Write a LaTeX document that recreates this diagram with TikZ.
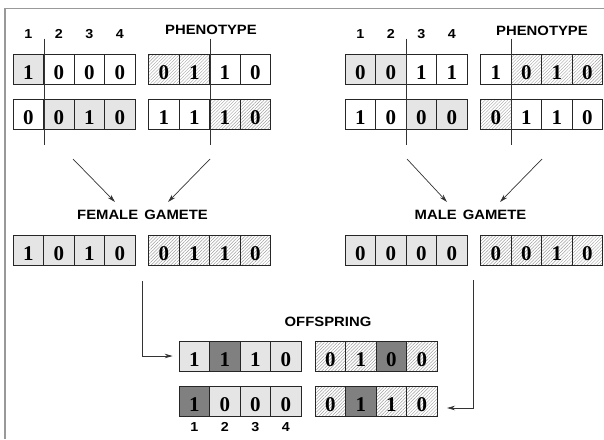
\documentclass[tikz,border=0pt]{standalone}
\usepackage{fontspec}
\setmainfont{Liberation Serif}
\newfontfamily\labfont[FakeStretch=1.1]{Liberation Sans}
\usetikzlibrary{patterns,patterns.meta,calc,arrows.meta}
\tikzset{
  cell/.style={draw=black!85, line width=0.7pt, minimum width=30.5pt, minimum height=30pt,
    inner sep=0pt, text height=20.5pt, text depth=0pt, font=\fontsize{21}{21}\selectfont\bfseries},
  kind/.style={#1},
  w/.style={fill=white},
  g/.style={fill=gray!20},
  d/.style={fill=gray},
  h/.style={pattern={Lines[angle=45,distance=2.3pt,line width=0.45pt]}, pattern color=gray!75},
  lab/.style={font=\labfont\bfseries\fontsize{13.5}{14}\selectfont, inner sep=0pt},
  num/.style={font=\labfont\bfseries\fontsize{13}{13}\selectfont, inner sep=0pt},
  xline/.style={draw=black!80, line width=0.6pt},
  link/.style={draw=black!80, line width=0.7pt, -{Stealth[length=8pt,width=4.5pt]}},
  frame/.style={draw=gray!80, line width=1.2pt},
}
\newcommand\reg[4]{%
  \foreach \dd/\ss [count=\ii] in {#4} {%
    \node[cell, kind/.expand once=\ss] (#1-\ii) at ({#2+(\ii-0.5)*30.5},#3) {\dd};
  }%
}
\begin{document}
\begin{tikzpicture}[x=1pt,y=-1pt]
\useasboundingbox (0,0) rectangle (604,439);
\draw[frame] (5,439) -- (5,8.5) -- (604,8.5);

% parents
\reg{tla}{13}{69}{1/g,0/w,0/w,0/w}
\reg{tlp}{148.5}{69}{0/h,1/h,1/w,0/w}
\reg{tlb}{13}{114}{0/w,0/g,1/g,0/g}
\reg{tlq}{148.5}{114}{1/w,1/w,1/h,0/h}
\reg{tra}{345}{69}{0/g,0/g,1/w,1/w}
\reg{trp}{480.5}{69}{1/w,0/h,1/h,0/h}
\reg{trb}{345}{114}{1/w,0/w,0/g,0/g}
\reg{trq}{480.5}{114}{0/h,1/w,1/w,0/w}
% gametes
\reg{fg}{13}{250}{1/g,0/g,1/g,0/g}
\reg{fp}{148.5}{250}{0/h,1/h,1/h,0/h}
\reg{mg}{345}{250}{0/g,0/g,0/g,0/g}
\reg{mp}{480.5}{250}{0/h,0/h,1/h,0/h}
% offspring
\reg{oa}{179}{356}{1/g,1/d,1/g,0/g}
\reg{op}{315}{356}{0/h,1/h,0/d,0/h}
\reg{ob}{179}{401}{1/d,0/g,0/g,0/g}
\reg{oq}{315}{401}{0/h,1/d,1/h,0/h}

% crossover lines
\draw[xline] ([yshift=15pt]tla-1.north east) -- ([yshift=-16pt]tlb-1.south east);
\draw[xline] ([yshift=15pt]tlp-2.north east) -- ([yshift=-16pt]tlq-2.south east);
\draw[xline] ([yshift=15pt]tra-2.north east) -- ([yshift=-16pt]trb-2.south east);
\draw[xline] ([yshift=15pt]trp-1.north east) -- ([yshift=-16pt]trq-1.south east);

% labels
\foreach \i in {1,...,4} {
  \node[num] (tln\i) at ($(tla-\i)+(0,-35)$) {\i};
  \node[num] (trn\i) at ($(tra-\i)+(0,-35)$) {\i};
  \node[num] (obn\i) at ($(ob-\i)+(0,26)$) {\i};
}
\node[lab] (ph1) at (211,30) {PHENOTYPE};
\node[lab] (ph2) at (542,30.5) {PHENOTYPE};
\node[lab] (fem) at (142.5,215) {FEMALE\hspace{0.45em}GAMETE};
\node[lab] (mal) at (470.5,215) {MALE\hspace{0.45em}GAMETE};
\node[lab] (off) at (328,321.5) {OFFSPRING};

% arrows to gametes
\coordinate (fa1) at (73,159);  \coordinate (fa2) at (115,202);
\coordinate (fb1) at (210,159); \coordinate (fb2) at (168,202);
\coordinate (ma1) at (407,159); \coordinate (ma2) at (447,202);
\coordinate (mb1) at (542,159); \coordinate (mb2) at (500,202);
\draw[link] (fa1) -- (fa2);
\draw[link] (fb1) -- (fb2);
\draw[link] (ma1) -- (ma2);
\draw[link] (mb1) -- (mb2);

% connectors to offspring
\coordinate (fc) at (142.5,281);
\coordinate (mc) at (473,280);
\coordinate (mcend) at (447,408);
\draw[link] (fc) |- ([xshift=-6pt]oa-1.west);
\draw[link] (mc) |- (mcend);
\end{tikzpicture}
\end{document}
